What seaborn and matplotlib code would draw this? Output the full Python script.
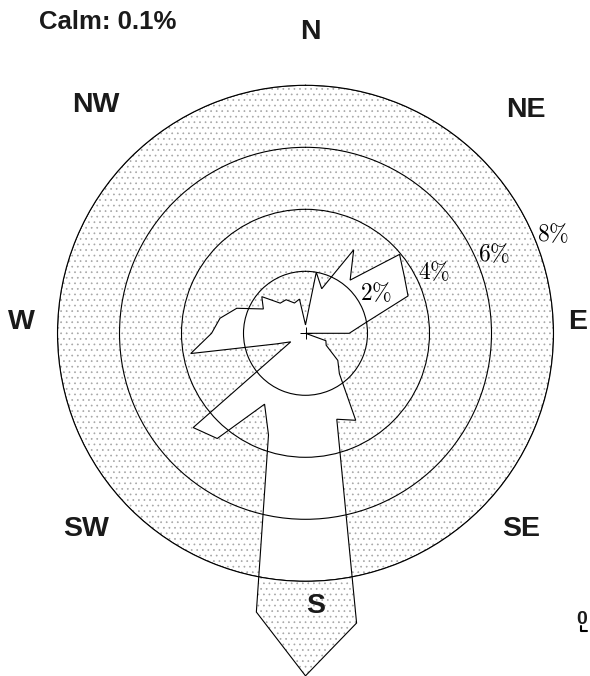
import numpy as np
import matplotlib
matplotlib.use('Agg')
import matplotlib.pyplot as plt
import seaborn as sns
from matplotlib.lines import Line2D

# ------------------------------------------------------------------
# data: wind rose, 10 degree bins, 0 = north, clockwise (frequency in %)
# ------------------------------------------------------------------
directions = np.arange(0, 360, 10)
frequency = [0.27, 2.00, 1.53, 3.11, 2.24, 3.96, 3.68, 3.52, 1.97, 1.41,
             0.00, 0.70, 0.77, 1.36, 1.70, 3.24, 2.95, 9.49, 11.05, 9.13,
             3.49, 2.64, 4.43, 4.73, 0.55, 1.00, 3.76, 3.03, 2.80, 2.36,
             1.57, 1.84, 1.27, 1.25, 1.04, 1.12]
ring_levels = [2, 4, 6, 8]
ring_labels = [r'$2\%$', r'$4\%$', r'$6\%$', r'$8\%$']
compass = ['N', 'NE', 'E', 'SE', 'S', 'SW', 'W', 'NW']
calm_pct = 0.1

sns.set_theme(style='white')
plt.rcParams['font.family'] = ['Liberation Sans', 'DejaVu Sans']
plt.rcParams['mathtext.fontset'] = 'cm'
plt.rcParams['hatch.linewidth'] = 0.5

stipple = '#a6a6a6'
W, H = 590, 676
fig = plt.figure(figsize=(W / 100, H / 100), dpi=100)
fig.patch.set_facecolor('white')

# polar axes placed so that the 8% ring has radius 248 px around (305.5, 333.3)
cx, cy, R = 305.5, 333.3, 248
ax = fig.add_axes([(cx - R) / W, (H - cy - R) / H, 2 * R / W, 2 * R / H],
                  projection='polar')
ax.set_theta_zero_location('N')
ax.set_theta_direction(-1)
ax.set_ylim(0, max(ring_levels))
ax.set_rgrids(ring_levels)
ax.set_thetagrids([])
ax.set_yticklabels([])
ax.set_axisbelow(False)
ax.yaxis.grid(True, color='black', lw=0.8)
ax.xaxis.grid(False)
ax.spines['polar'].set_color('black')
ax.spines['polar'].set_linewidth(0.8)

# stippled background inside the outer ring
ax.patch.set_facecolor('white')
ax.patch.set_edgecolor(stipple)
ax.patch.set_linewidth(0)
ax.patch.set_hatch('...')

theta = np.deg2rad(directions)
# rose: stippled where it leaves the outer ring, blank inside it
ax.fill(theta, frequency, facecolor='white', edgecolor=stipple, hatch='...',
        lw=0, clip_on=False, zorder=1)
ax.fill(theta, frequency, facecolor='white', edgecolor='white', lw=0, zorder=1.5)
ax.fill(theta, frequency, facecolor='none', edgecolor='black', lw=0.8,
        clip_on=False, zorder=3)
ax.plot([0], [0], marker='+', ms=8, mew=0.7, color='black', zorder=4)

# ring labels: left edge of each label (bearing in degrees, radius in %)
label_pos = [(53.7, 2.18), (61.4, 4.13), (65.3, 6.12), (66.8, 8.12)]
for (brg, rr), lab in zip(label_pos, ring_labels):
    ax.text(np.deg2rad(brg), rr, lab, ha='left', va='center',
            fontsize=17, color='black', zorder=5)

# compass labels (pixel centres)
label_px = [(310, 32), (526, 110), (578, 322), (521, 529),
            (316, 606), (86, 529), (21, 322), (96, 105)]
for lab, (px, py) in zip(compass, label_px):
    fig.text(px / W, 1 - py / H, lab, ha='center', va='center',
             fontsize=20.5, fontweight='bold', color='#1a1a1a')

fig.text(39 / W, 1 - 22.3 / H, f'Calm: {calm_pct}%', ha='left', va='center',
         fontsize=18.5, fontweight='bold', color='#1a1a1a')

fig.text(582 / W, 1 - 619 / H, '0', ha='center', va='center',
         fontsize=14, fontweight='bold', color='#1a1a1a')
fig.add_artist(Line2D([581 / W, 581 / W, 587 / W],
                      [1 - 626 / H, 1 - 631 / H, 1 - 631 / H],
                      color='black', lw=1.5))

fig.savefig('out.png', dpi=100)
